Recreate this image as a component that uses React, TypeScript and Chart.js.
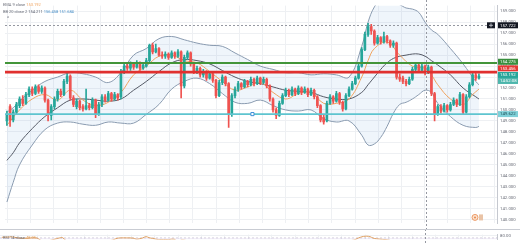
import React, { useEffect, useRef } from "react";
import { Chart, registerables } from "chart.js";
Chart.register(...registerables);

// ---------- DATA ----------
const OPEN = [149.0,150.3,149.1,149.8,150.4,151.0,150.6,151.4,151.9,151.5,152.1,151.7,152.0,150.9,149.5,150.3,151.0,151.7,151.4,152.6,153.1,151.1,150.3,150.8,150.3,150.1,150.4,150.2,150.9,149.6,150.5,151.2,150.9,151.5,151.0,151.4,151.2,153.5,154.0,153.8,154.2,153.9,154.3,153.8,154.0,154.5,155.9,155.3,155.6,155.0,154.9,155.1,154.8,155.2,154.9,155.3,152.2,154.8,155.2,154.2,153.5,153.8,153.2,153.5,152.9,153.3,152.7,151.3,152.5,153.0,152.4,149.6,151.3,151.9,152.4,152.1,152.6,152.3,152.8,152.4,152.9,152.5,152.8,152.2,151.0,150.0,149.5,150.6,151.3,151.8,151.4,151.9,151.5,152.0,151.6,151.9,151.4,151.8,151.2,150.4,149.3,149.0,150.6,151.2,150.8,151.5,150.7,150.1,151.3,151.9,152.4,152.9,154.0,155.5,156.9,157.6,157.2,156.1,156.6,156.2,156.7,156.3,155.9,156.1,153.0,152.9,152.6,152.4,152.8,153.7,154.1,153.6,154.0,153.4,153.9,151.5,149.6,150.3,149.9,150.4,150.0,150.5,150.9,150.5,151.4,149.8,151.2,152.3,153.2,152.9];
const HIGH = [149.9,150.5,150.0,150.7,151.2,151.3,151.6,152.1,152.1,152.3,152.3,152.2,152.1,151.0,150.5,151.2,151.9,151.9,152.8,153.45,153.2,151.3,151.0,150.9,150.5,151.9,150.6,151.1,151.0,150.7,151.4,151.4,151.7,151.6,151.6,151.5,153.7,154.2,154.2,154.4,154.3,154.5,154.4,154.3,154.7,156.0,156.1,156.0,155.7,155.3,155.3,155.2,155.4,155.3,155.5,155.4,155.0,155.4,155.3,154.3,154.0,153.9,153.7,153.6,153.5,153.4,152.8,152.7,153.2,153.1,152.5,151.5,152.1,152.6,152.5,152.8,152.7,153.0,152.9,153.1,153.0,153.0,152.9,152.3,151.1,150.2,150.8,151.5,152.0,151.9,152.1,152.0,152.2,152.1,152.1,152.0,152.0,151.9,151.3,150.5,149.6,150.8,151.4,151.3,151.7,151.6,150.8,151.5,152.1,152.6,153.1,154.2,155.7,157.1,157.9,157.8,157.3,156.8,156.7,157.1,156.8,156.4,156.3,156.2,153.3,153.1,152.8,153.0,153.9,154.3,154.2,154.2,154.1,154.1,154.0,151.6,150.5,150.5,150.6,150.5,150.7,151.1,151.0,151.6,151.5,151.4,152.5,153.4,153.5,153.3];
const LOW = [148.6,148.5,148.9,149.6,150.2,150.4,150.5,151.2,151.3,151.4,151.5,151.5,150.7,149.0,149.1,150.1,150.8,151.2,151.3,152.4,150.9,150.3,150.1,150.0,149.9,150.0,150.0,150.1,149.3,149.5,150.3,150.7,150.8,150.8,150.9,150.9,151.0,153.3,153.6,153.6,153.7,153.8,153.6,153.7,153.9,154.4,155.1,155.2,154.9,154.7,154.7,154.6,154.7,154.7,154.8,151.1,152.0,154.6,154.0,153.3,153.3,153.0,153.0,152.7,152.8,152.5,151.1,151.2,152.3,152.2,148.4,149.4,151.1,151.7,151.9,152.0,152.1,152.2,152.2,152.3,152.3,152.4,152.0,150.8,149.8,149.2,149.4,150.5,151.2,151.2,151.3,151.3,151.4,151.4,151.5,151.2,151.3,151.0,150.2,148.9,148.7,148.9,150.5,150.6,150.7,150.5,149.9,150.0,151.2,151.8,152.3,152.8,153.9,155.4,156.7,156.9,155.9,156.0,156.0,156.1,156.1,155.7,155.7,152.8,152.6,152.4,152.2,152.3,152.7,153.5,153.4,153.5,153.2,153.3,151.3,149.0,149.5,149.7,149.8,149.8,149.9,150.4,150.3,150.4,149.6,149.7,151.1,152.2,152.7,152.8];
const CLOSE = [149.6,149.1,149.8,150.5,151.0,150.6,151.4,151.9,151.5,152.1,151.7,152.0,150.9,149.6,150.3,151.0,151.7,151.4,152.6,153.1,151.1,150.5,150.8,150.2,150.1,150.4,150.2,150.9,149.6,150.5,151.2,150.9,151.5,151.0,151.4,151.1,153.5,154.0,153.8,154.2,153.9,154.3,153.8,154.1,154.5,155.9,155.3,155.6,155.0,154.9,155.1,154.8,155.2,154.9,155.3,152.2,154.8,155.2,154.2,153.5,153.8,153.2,153.5,152.9,153.3,152.7,151.3,152.5,153.0,152.4,149.6,151.3,151.9,152.4,152.1,152.6,152.3,152.8,152.4,152.9,152.5,152.8,152.2,151.0,150.0,149.5,150.6,151.3,151.8,151.4,151.9,151.5,152.0,151.6,151.9,151.4,151.8,151.2,150.4,149.1,148.9,150.6,151.2,150.8,151.5,150.7,150.1,151.3,151.9,152.4,152.9,154.0,155.5,156.9,157.6,157.2,156.1,156.6,156.2,156.7,156.3,155.9,156.1,153.0,152.8,152.6,152.4,152.8,153.7,154.1,153.6,154.0,153.4,153.9,151.5,149.6,150.3,149.9,150.4,150.0,150.5,150.9,150.5,151.4,149.8,151.2,152.3,153.2,152.9,153.1];

const BB_IDX   = [0,2,4,8,12,16,20,24,28,32,36,40,44,48,52,56,60,64,68,72,76,80,84,88,92,96,100,104,108,112,114,116,118,120,122,124,126,128,130,132,134,136,140,144,148,149];
const BB_UPPER = [149.8,150.2,150.8,151.8,152.6,153.0,153.4,153.3,153.0,152.5,153.4,155.0,155.6,156.5,156.7,156.4,156.1,155.9,155.8,155.2,154.6,154.0,153.7,153.4,153.4,153.2,153.3,153.2,153.0,155.8,158.0,159.4,160.0,160.1,159.8,159.6,159.3,159.2,158.9,158.0,157.3,156.9,155.6,154.2,152.6,152.3];
const BB_BASIS = [145.4,146.1,147.0,148.3,149.4,150.2,150.9,151.0,150.9,150.8,151.0,151.8,152.6,153.5,154.3,154.6,154.5,154.2,153.6,153.0,152.6,152.4,152.1,151.8,151.7,151.6,151.2,151.0,151.0,151.6,152.3,153.0,153.7,154.3,154.7,154.9,155.0,155.1,155.1,154.9,154.5,154.1,153.2,152.0,151.2,151.0];
const BB_LOWER = [141.6,143.4,145.0,146.8,148.2,148.8,148.9,148.7,148.6,148.9,148.8,148.8,149.6,150.5,151.9,152.6,152.9,152.4,151.5,150.7,150.6,150.9,150.4,150.0,149.9,150.0,149.2,148.9,149.0,147.7,146.8,146.9,147.5,148.5,149.7,150.5,150.7,151.0,151.4,151.8,151.6,150.6,149.4,148.6,148.4,148.5];

const EMA_IDX = [0,4,8,12,16,20,24,28,32,36,40,44,48,52,56,60,64,68,72,76,80,84,88,92,96,100,104,108,112,114,116,120,124,128,132,134,136,140,144,147,149];
const EMA_VAL = [148.6,150.0,151.0,151.4,150.9,151.8,150.9,150.4,150.7,151.6,153.2,154.0,154.9,155.0,154.5,154.3,153.5,152.6,151.8,152.1,152.5,151.6,151.0,151.5,151.6,150.6,150.6,151.0,153.0,154.5,155.6,156.2,155.0,154.0,153.8,153.2,152.3,151.0,150.5,151.4,151.9];

const RSI_IDX = [0,2,3,5,7,9,10,11,12,13,15,17,18,19,20,22,26,30,34,36,37,39,41,42,43,44,45,46,47,49,52,54,55,56,58,62,66,70,74,80,84,88,94,99,102,106,108,110,111,112,113,114,115,116,117,119,121,123,128,133,135,140,144,147,149];
const RSI_VAL = [73,74,75,70,68,70,71,69,60,52,58,66,70,71,58,55,54,57,58,68,70,70,69,64,66,70,76,71,68,62,62,63,50,60,57,54,48,40,52,54,45,52,52,42,50,47,55,60,67,73,77,78,76,69,66,63,60,48,56,55,42,47,44,55,56];

const PRICE_TICKS = [140,141,142,143,144,145,146,147,148,149,150,151,152,153,154,155,156,157,158,159];
const RSI_TICKS = [80];

const LEVEL_GREEN = 154.275;
const LEVEL_RED = 153.456;
const LEVEL_TEAL = 149.622;
const CROSS_PRICE = 157.722;
const CROSS_INDEX = 132.2;
const LAST_PRICE = 153.192;
const HANDLE_INDEX = 77.5;

const X_MIN = -0.6;
const X_MAX = 154.7;
const Y_MIN = 139.65;
const Y_MAX = 159.52;
const GRID_START = 3.9;
const GRID_STEP = 7.31;

const UP = "#26a69a";
const DOWN = "#ef5350";
const FONT = "Roboto, 'Liberation Sans', sans-serif";

function gridTicks() {
  const t: { value: number }[] = [];
  for (let v = GRID_START; v < X_MAX; v += GRID_STEP) t.push({ value: v });
  return t;
}

const crossPlugin = {
  id: "cross",
  afterDraw(chart: any) {
    const { ctx, chartArea, scales } = chart;
    const x = scales.x;
    ctx.save();
    ctx.setLineDash([2, 2]);
    ctx.strokeStyle = "#9598a1";
    ctx.lineWidth = 1;
    const cx = Math.round(x.getPixelForValue(CROSS_INDEX)) + 0.5;
    ctx.beginPath();
    ctx.moveTo(cx, 0);
    ctx.lineTo(cx, chart.height);
    ctx.stroke();
    if (chart.options.plugins.cross && chart.options.plugins.cross.main) {
      const y = scales.y;
      const cy = Math.round(y.getPixelForValue(CROSS_PRICE)) + 0.5;
      ctx.beginPath();
      ctx.moveTo(chartArea.left, cy);
      ctx.lineTo(chartArea.right, cy);
      ctx.stroke();
      ctx.setLineDash([]);
      const tags = [
        { price: CROSS_PRICE, text: CROSS_PRICE.toFixed(3), bg: "#131722", fg: "#ffffff" },
        { price: LEVEL_GREEN, text: LEVEL_GREEN.toFixed(3), bg: "#388e3c", fg: "#ffffff" },
        { price: LEVEL_RED, text: LEVEL_RED.toFixed(3), bg: "#e53935", fg: "#ffffff" },
        { price: LAST_PRICE, text: LAST_PRICE.toFixed(3), bg: "#26a69a", fg: "#ffffff" },
        { price: LEVEL_TEAL, text: LEVEL_TEAL.toFixed(3), bg: "#7fd0d8", fg: "#1b4d55" },
      ];
      const h = 6;
      const pos = tags.map((t) => y.getPixelForValue(t.price));
      const lastY = pos[3];
      pos[2] = Math.min(pos[2], lastY - h - 0.6);
      pos[1] = Math.min(pos[1], pos[2] - h - 0.6);
      const left = chartArea.right + 1;
      const w = chart.width - left - 2;
      ctx.font = `4.3px ${FONT}`;
      ctx.textBaseline = "middle";
      ctx.textAlign = "left";
      tags.forEach((t, i) => {
        ctx.fillStyle = t.bg;
        ctx.fillRect(left, pos[i] - h / 2, w, h);
        ctx.fillStyle = t.fg;
        ctx.fillText(t.text, left + 2, pos[i] + 0.3);
      });
      ctx.fillStyle = "#4db6ac";
      ctx.fillRect(left, lastY + h / 2, w, h);
      ctx.fillStyle = "#ffffff";
      ctx.fillText("14:52:08", left + 2, lastY + h + 0.3);
      const bx = chartArea.right - 10;
      ctx.fillStyle = "#131722";
      ctx.fillRect(bx, pos[0] - h / 2, 8, h);
      ctx.strokeStyle = "#d1d4dc";
      ctx.lineWidth = 0.8;
      ctx.beginPath();
      ctx.moveTo(bx + 4, pos[0] - 2);
      ctx.lineTo(bx + 4, pos[0] + 2);
      ctx.moveTo(bx + 2, pos[0]);
      ctx.lineTo(bx + 6, pos[0]);
      ctx.stroke();
      const rx = chartArea.right - 22;
      const ry = chartArea.bottom - 6;
      ctx.fillStyle = "#fbe3d0";
      ctx.beginPath();
      ctx.arc(rx, ry, 3, 0, Math.PI * 2);
      ctx.fill();
      ctx.strokeStyle = "#e8874a";
      ctx.lineWidth = 0.8;
      ctx.stroke();
      ctx.fillStyle = "#e8874a";
      ctx.beginPath();
      ctx.arc(rx, ry, 1, 0, Math.PI * 2);
      ctx.fill();
      ctx.fillStyle = "#e9c3a6";
      ctx.fillRect(rx + 4, ry - 3, 4, 6);
    }
    ctx.restore();
  },
};

function MainChart() {
  const ref = useRef<HTMLCanvasElement>(null);
  useEffect(() => {
    const idx = OPEN.map((_, i) => i);
    const colors = idx.map((i) => (CLOSE[i] >= OPEN[i] ? UP : DOWN));
    const chart = new Chart(ref.current as HTMLCanvasElement, {
      type: "bar",
      data: {
        datasets: [
          {
            type: "line",
            data: BB_IDX.map((x, k) => ({ x, y: BB_UPPER[k] })),
            borderColor: "#8a9bb0",
            borderWidth: 1,
            pointRadius: 0,
            tension: 0.4,
            fill: false,
            order: 10,
          } as any,
          {
            type: "line",
            data: BB_IDX.map((x, k) => ({ x, y: BB_LOWER[k] })),
            borderColor: "#8a9bb0",
            borderWidth: 1,
            pointRadius: 0,
            tension: 0.4,
            fill: "-1",
            backgroundColor: "rgba(120,170,220,0.12)",
            order: 10,
          } as any,
          {
            type: "line",
            data: BB_IDX.map((x, k) => ({ x, y: BB_BASIS[k] })),
            borderColor: "#555a66",
            borderWidth: 1,
            pointRadius: 0,
            tension: 0.4,
            order: 9,
          } as any,
          {
            type: "line",
            data: EMA_IDX.map((x, k) => ({ x, y: EMA_VAL[k] })),
            borderColor: "#f0a35e",
            borderWidth: 1,
            pointRadius: 0,
            tension: 0.4,
            order: 8,
          } as any,
          {
            type: "line",
            data: [{ x: X_MIN, y: LEVEL_GREEN }, { x: X_MAX, y: LEVEL_GREEN }],
            borderColor: "#43953a",
            borderWidth: 2,
            pointRadius: 0,
            order: 2,
          } as any,
          {
            type: "line",
            data: [{ x: X_MIN, y: LEVEL_RED }, { x: X_MAX, y: LEVEL_RED }],
            borderColor: "#e0302f",
            borderWidth: 2.8,
            pointRadius: 0,
            order: 2,
          } as any,
          {
            type: "line",
            data: [{ x: X_MIN, y: LEVEL_TEAL }, { x: X_MAX, y: LEVEL_TEAL }],
            borderColor: "#5ec4cf",
            borderWidth: 1.6,
            pointRadius: 0,
            order: 2,
          } as any,
          {
            type: "scatter",
            data: [{ x: HANDLE_INDEX, y: LEVEL_TEAL }],
            pointStyle: "rect",
            pointRadius: 2.2,
            borderColor: "#3f8fd8",
            borderWidth: 1,
            backgroundColor: "#ffffff",
            order: 1,
          } as any,
          {
            type: "bar",
            data: idx.map((i) => ({ x: i, y: [LOW[i], HIGH[i]] })),
            backgroundColor: colors,
            barThickness: 1,
            grouped: false,
            order: 4,
          } as any,
          {
            type: "bar",
            data: idx.map((i) => ({ x: i, y: [OPEN[i], CLOSE[i]] })),
            backgroundColor: colors,
            barThickness: 2,
            minBarLength: 1,
            grouped: false,
            order: 3,
          } as any,
        ],
      },
      options: {
        animation: false,
        responsive: false,
        maintainAspectRatio: false,
        events: [],
        layout: { padding: 0 },
        plugins: {
          legend: { display: false },
          tooltip: { enabled: false },
          cross: { main: true },
        } as any,
        scales: {
          x: {
            type: "linear",
            min: X_MIN,
            max: X_MAX,
            offset: false,
            afterBuildTicks: (s: any) => {
              s.ticks = gridTicks();
            },
            afterFit: (s: any) => {
              s.height = 0;
            },
            ticks: { display: false },
            grid: { color: "#eef0f3", drawTicks: false },
            border: { display: false },
          },
          y: {
            position: "right",
            min: Y_MIN,
            max: Y_MAX,
            afterBuildTicks: (s: any) => {
              s.ticks = PRICE_TICKS.map((v) => ({ value: v }));
            },
            afterFit: (s: any) => {
              s.width = 23;
            },
            ticks: {
              font: { size: 4.3, family: FONT },
              color: "#6a6d78",
              padding: 3,
              callback: (v: any) => Number(v).toFixed(3),
            },
            grid: { color: "#eef0f3", drawTicks: false },
            border: { color: "#c5c8cf" },
          },
        },
      } as any,
      plugins: [crossPlugin],
    });
    return () => chart.destroy();
  }, []);
  return <canvas ref={ref} width={520} height={229} style={{ position: "absolute", left: 0, top: 0, width: 520, height: 229 }} />;
}

function RsiChart() {
  const ref = useRef<HTMLCanvasElement>(null);
  useEffect(() => {
    const chart = new Chart(ref.current as HTMLCanvasElement, {
      type: "line",
      data: {
        datasets: [
          {
            data: [{ x: X_MIN, y: 70 }, { x: X_MAX, y: 70 }],
            borderColor: "rgba(150,140,170,0.6)",
            borderWidth: 0.6,
            borderDash: [2, 2],
            pointRadius: 0,
            fill: "start",
            backgroundColor: "rgba(126,87,194,0.1)",
            order: 5,
          },
          {
            data: RSI_IDX.map((x, k) => ({ x, y: RSI_VAL[k] })),
            borderColor: "#e0a060",
            borderWidth: 1,
            pointRadius: 0,
            tension: 0.4,
            order: 1,
          },
        ],
      },
      options: {
        animation: false,
        responsive: false,
        maintainAspectRatio: false,
        events: [],
        layout: { padding: 0 },
        plugins: { legend: { display: false }, tooltip: { enabled: false }, cross: { main: false } } as any,
        scales: {
          x: {
            type: "linear",
            min: X_MIN,
            max: X_MAX,
            offset: false,
            afterBuildTicks: (s: any) => {
              s.ticks = gridTicks();
            },
            afterFit: (s: any) => {
              s.height = 0;
            },
            ticks: { display: false },
            grid: { color: "#eef0f3", drawTicks: false },
            border: { display: false },
          },
          y: {
            position: "right",
            min: 62.9,
            max: 85.7,
            afterBuildTicks: (s: any) => {
              s.ticks = RSI_TICKS.map((v) => ({ value: v }));
            },
            afterFit: (s: any) => {
              s.width = 23;
            },
            ticks: {
              font: { size: 4.3, family: FONT },
              color: "#6a6d78",
              padding: 3,
              callback: (v: any) => Number(v).toFixed(2),
            },
            grid: { color: "#eef0f3", drawTicks: false },
            border: { color: "#c5c8cf" },
          },
        },
      } as any,
      plugins: [crossPlugin],
    });
    return () => chart.destroy();
  }, []);
  return <canvas ref={ref} width={520} height={16} style={{ position: "absolute", left: 0, top: 229, width: 520, height: 16 }} />;
}

const legendStyle: React.CSSProperties = {
  position: "absolute",
  left: 3,
  fontFamily: FONT,
  fontSize: "4px",
  lineHeight: "5px",
  color: "#6a6d78",
  whiteSpace: "nowrap",
};

export default function App() {
  return (
    <div style={{ position: "absolute", left: 0, top: 0, width: 520, height: 245, background: "#ffffff", overflow: "hidden" }}>
      <MainChart />
      <RsiChart />
      <div style={{ position: "absolute", left: 0, top: 228.5, width: 520, height: 1, background: "#c9ccd3" }} />
      <div style={{ ...legendStyle, top: 2 }}>
        EMA 9 close <span style={{ color: "#f0a35e" }}>153.192</span>
      </div>
      <div style={{ ...legendStyle, top: 9 }}>
        BB 20 close 2 <span style={{ color: "#5d6270" }}>154.211</span> <span style={{ color: "#4a90c8" }}>156.458</span>{" "}
        <span style={{ color: "#4a90c8" }}>151.684</span>
      </div>
      <div style={{ ...legendStyle, top: 16, left: 7, fontSize: "5px" }}>^</div>
      <div style={{ ...legendStyle, top: 235 }}>
        RSI 14 close <span style={{ color: "#e0a060" }}>48.05</span>
      </div>
    </div>
  );
}
